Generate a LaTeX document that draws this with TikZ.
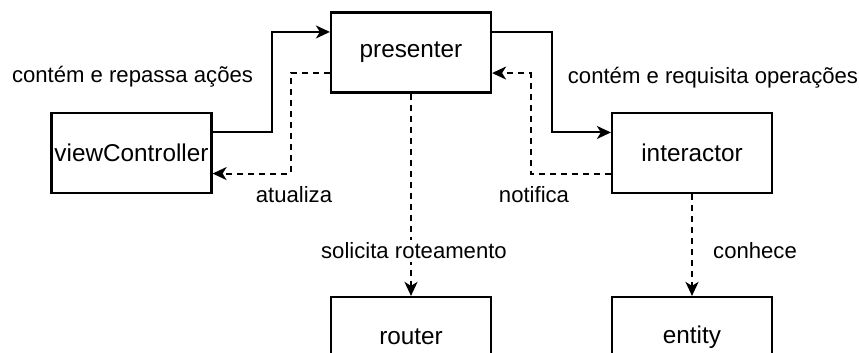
\documentclass[tikz,border=0pt]{standalone}
\usepackage{fontspec}
\setmainfont{Liberation Sans}
\usetikzlibrary{arrows.meta,calc}
\begin{document}
\begin{tikzpicture}[x=1bp,y=-1bp,
  box/.style={draw,line width=2.2bp,minimum width=160bp,minimum height=80bp,inner sep=0pt,font=\fontsize{24.4}{28}\selectfont},
  lbl/.style={inner sep=0pt,font=\fontsize{22.2}{26}\selectfont},
  conn/.style={line width=2bp,-{Stealth[length=14bp,width=13bp,inset=4bp]}},
  dconn/.style={conn,dash pattern=on 6bp off 5bp}]
\useasboundingbox (0,0) rectangle (859,352);
\clip (0,0) rectangle (859,352);
\node[box] (presenter) at (411,52.5) {presenter};
\node[box] (vc) at (131.5,153) {viewController};
\node[box] (interactor) at (692,153) {interactor};
\node[box] (router) at (411,337) {router};
\node[box] (entity) at (692,337) {entity};
\coordinate (vcA) at ($(vc.north east)!0.25!(vc.south east)$);
\coordinate (vcB) at ($(vc.north east)!0.75!(vc.south east)$);
\coordinate (pWA) at ($(presenter.north west)!0.25!(presenter.south west)$);
\coordinate (pWB) at ($(presenter.north west)!0.75!(presenter.south west)$);
\coordinate (pEA) at ($(presenter.north east)!0.25!(presenter.south east)$);
\coordinate (pEB) at ($(presenter.north east)!0.75!(presenter.south east)$);
\coordinate (iA) at ($(interactor.north west)!0.25!(interactor.south west)$);
\coordinate (iB) at ($(interactor.north west)!0.75!(interactor.south west)$);
\draw[conn] (vcA) -- ++(59,0) |- (pWA);
\draw[dconn] (pWB) -- ++(-39,0) |- (vcB);
\draw[conn] (pEA) -- ++(60,0) |- (iA);
\draw[dconn] (iB) -- ++(-80,0) |- (pEB);
\draw[dconn] (presenter.south) -- (router.north);
\draw[dconn] (interactor.south) -- (entity.north);
\node[lbl] (l1) at (132.5,77) {contém e repassa ações};
\node[lbl] (l2) at (713,78) {contém e requisita operações};
\node[lbl] (l3) at (294,195) {atualiza};
\node[lbl] (l4) at (534,195) {notifica};
\node[lbl,fill=white,inner ysep=3bp] (l5) at (414,251) {solicita roteamento};
\node[lbl] (l6) at (755,251) {conhece};
\end{tikzpicture}
\end{document}
